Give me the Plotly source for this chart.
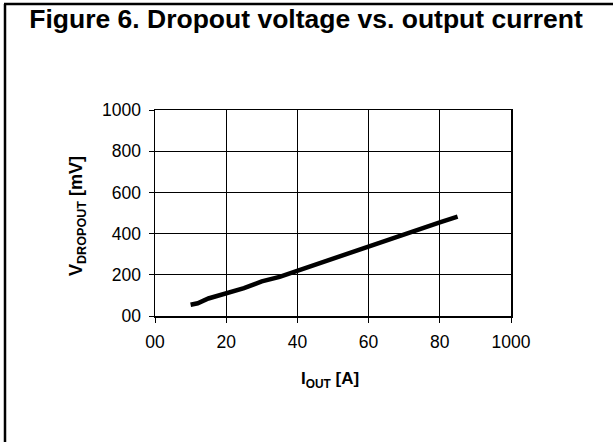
import plotly.graph_objects as go

# Data
current_a = [10, 12, 15, 20, 25, 28, 30, 35, 40, 50, 60, 70, 80, 85]
dropout_mv = [55, 62, 85, 108, 135, 155, 168, 190, 220, 280, 338, 395, 455, 482]

x_tickvals = [0, 20, 40, 60, 80, 100]
x_ticktext = ["00", "20", "40", "60", "80", "1000"]
y_tickvals = [0, 200, 400, 600, 800, 1000]
y_ticktext = ["00", "200", "400", "600", "800", "1000"]

W, H = 613, 442
L, R, T, B = 155, 102, 110, 126
pw = W - L - R
ph = H - T - B

def px_to_paper_x(px):
    return (px - L) / pw

def py_to_paper_y(py):
    return (H - B - py) / ph

FONT = "Liberation Sans, Arial, sans-serif"

fig = go.Figure()
fig.add_trace(go.Scatter(
    x=current_a, y=dropout_mv, mode="lines",
    line=dict(color="black", width=4.5),
    showlegend=False, hoverinfo="skip",
))

fig.update_layout(
    width=W, height=H,
    margin=dict(l=L, r=R, t=T, b=B, autoexpand=False),
    paper_bgcolor="white", plot_bgcolor="white",
    font=dict(family=FONT, color="black", size=17),
    title=dict(
        text="<b>Figure 6. Dropout voltage vs. output current</b>",
        x=306 / W, xref="container", xanchor="center",
        y=1 - 19 / H, yref="container", yanchor="middle",
        font=dict(size=26.5, family=FONT, color="black"),
    ),
    xaxis=dict(
        range=[0, 100], tickvals=x_tickvals, ticktext=x_ticktext,
        showgrid=True, gridcolor="black", gridwidth=1,
        showline=True, linecolor="black", linewidth=1.5, mirror=True,
        ticks="outside", ticklen=5, tickcolor="black",
        zeroline=False, tickfont=dict(size=17.5), ticklabelstandoff=4,
        fixedrange=True,
    ),
    yaxis=dict(
        range=[0, 1000], tickvals=y_tickvals, ticktext=y_ticktext,
        showgrid=True, gridcolor="black", gridwidth=1,
        showline=True, linecolor="black", linewidth=1.5, mirror=True,
        ticks="outside", ticklen=5, tickcolor="black",
        zeroline=False, tickfont=dict(size=17.5), ticklabelstandoff=4,
        fixedrange=True,
    ),
    annotations=[
        dict(text="<b>I<sub>OUT</sub> [A]</b>", xref="paper", yref="paper",
             x=px_to_paper_x(330), y=py_to_paper_y(380),
             xanchor="center", yanchor="middle", showarrow=False,
             font=dict(size=17, family=FONT, color="black")),
        dict(text="<b>V<sub>DROPOUT</sub> [mV]</b>", xref="paper", yref="paper",
             x=px_to_paper_x(77), y=py_to_paper_y(216), textangle=-90,
             xanchor="center", yanchor="middle", showarrow=False,
             font=dict(size=18, family=FONT, color="black")),
    ],
    shapes=[
        dict(type="line", xref="paper", yref="paper",
             x0=px_to_paper_x(4), x1=px_to_paper_x(W + 2),
             y0=py_to_paper_y(4), y1=py_to_paper_y(4),
             line=dict(color="black", width=2.5)),
        dict(type="line", xref="paper", yref="paper",
             x0=px_to_paper_x(5), x1=px_to_paper_x(5),
             y0=py_to_paper_y(4), y1=py_to_paper_y(H + 2),
             line=dict(color="black", width=2.5)),
    ],
)

fig.write_html(
    "out.html",
    config={"displayModeBar": False, "staticPlot": True},
    post_script="document.body.style.margin='0';document.body.style.overflow='hidden';",
)
